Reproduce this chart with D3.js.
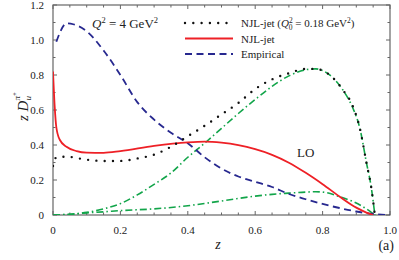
<!DOCTYPE html>
<html>
<head>
<meta charset="utf-8">
<script src="https://cdn.jsdelivr.net/npm/d3@7"></script>
<style>
  body { margin: 0; background: #fff; }
  text { font-family: "Liberation Serif", "DejaVu Serif", serif; fill: #222; }
</style>
</head>
<body>
<div id="chart"></div>
<script>
// NJL-jet (Q0^2 = 0.18 GeV^2), black dotted
const njlQ0Z = [0, 0.01, 0.04, 0.1, 0.15, 0.2, 0.25, 0.3, 0.35, 0.4, 0.45, 0.5, 0.55, 0.6, 0.65, 0.7, 0.75, 0.78, 0.8, 0.83, 0.86, 0.89, 0.91, 0.93, 0.945, 0.955];
const njlQ0V = [0.28, 0.33, 0.333, 0.316, 0.309, 0.309, 0.323, 0.345, 0.39, 0.45, 0.51, 0.575, 0.64, 0.72, 0.775, 0.81, 0.835, 0.835, 0.825, 0.785, 0.715, 0.62, 0.5, 0.3, 0.15, 0];

// NJL-jet, red solid
const njlZ = [0, 0.005, 0.01, 0.02, 0.04, 0.07, 0.1, 0.15, 0.2, 0.3, 0.4, 0.45, 0.5, 0.55, 0.6, 0.65, 0.7, 0.75, 0.8, 0.85, 0.9, 0.93, 0.95];
const njlV = [0.82, 0.62, 0.5, 0.43, 0.39, 0.365, 0.356, 0.355, 0.365, 0.395, 0.415, 0.419, 0.413, 0.399, 0.376, 0.344, 0.299, 0.241, 0.176, 0.106, 0.042, 0.014, 0];

// Empirical, blue dashed
const empZ = [0.01, 0.02, 0.04, 0.06, 0.1, 0.15, 0.2, 0.25, 0.3, 0.35, 0.4, 0.45, 0.5, 0.55, 0.6, 0.65, 0.7, 0.75, 0.8, 0.85, 0.9, 0.95, 1.0];
const empV = [0.99, 1.04, 1.095, 1.09, 1.05, 0.94, 0.8, 0.645, 0.545, 0.47, 0.41, 0.33, 0.265, 0.22, 0.19, 0.16, 0.12, 0.09, 0.063, 0.04, 0.02, 0.006, 0];

// LO, green dash-dot (upper and lower)
const loUpZ = [0, 0.05, 0.1, 0.15, 0.2, 0.25, 0.3, 0.35, 0.4, 0.45, 0.5, 0.55, 0.6, 0.65, 0.7, 0.75, 0.78, 0.8, 0.83, 0.86, 0.89, 0.91, 0.93, 0.945, 0.955];
const loUpV = [0, 0.004, 0.015, 0.035, 0.065, 0.115, 0.175, 0.24, 0.33, 0.41, 0.495, 0.58, 0.66, 0.735, 0.795, 0.83, 0.835, 0.825, 0.785, 0.715, 0.61, 0.5, 0.3, 0.15, 0];
const loLowZ = [0, 0.05, 0.1, 0.15, 0.2, 0.3, 0.4, 0.5, 0.6, 0.65, 0.7, 0.75, 0.78, 0.81, 0.85, 0.89, 0.93, 0.955];
const loLowV = [0, 0.004, 0.012, 0.018, 0.025, 0.035, 0.053, 0.08, 0.108, 0.118, 0.125, 0.131, 0.133, 0.128, 0.105, 0.077, 0.035, 0];

const xTicks = [0, 0.2, 0.4, 0.6, 0.8, 1.0];
const xTickLabels = ["0", "0.2", "0.4", "0.6", "0.8", "1.0"];
const yTicks = [0, 0.2, 0.4, 0.6, 0.8, 1.0, 1.2];
const yTickLabels = ["0", "0.2", "0.4", "0.6", "0.8", "1.0", "1.2"];

const W = 399, H = 260;
const margin = { top: 5, right: 9, bottom: 45, left: 53 };
const width = W - margin.left - margin.right;
const height = H - margin.top - margin.bottom;

const svg = d3.select("#chart").append("svg")
    .attr("width", W).attr("height", H);

const g = svg.append("g")
    .attr("transform", `translate(${margin.left},${margin.top})`);

const x = d3.scaleLinear().domain([0, 1]).range([0, width]);
const y = d3.scaleLinear().domain([0, 1.2]).range([height, 0]);

const axisColor = "#666";

// ticks, pointing inward, on all four sides
const xMinor = d3.range(0, 1.0001, 0.05);
const yMinor = d3.range(0, 1.2001, 0.1);
const isMajor = v => Math.abs(v * 5 - Math.round(v * 5)) < 1e-6;

const ticks = g.append("g").attr("stroke", axisColor).attr("stroke-width", 1);
xMinor.forEach(v => {
  const len = isMajor(v) ? 4 : 2.5;
  ticks.append("line").attr("x1", x(v)).attr("x2", x(v)).attr("y1", height).attr("y2", height - len);
  ticks.append("line").attr("x1", x(v)).attr("x2", x(v)).attr("y1", 0).attr("y2", len);
});
yMinor.forEach(v => {
  const len = isMajor(v) ? 4 : 2.5;
  ticks.append("line").attr("y1", y(v)).attr("y2", y(v)).attr("x1", 0).attr("x2", len);
  ticks.append("line").attr("y1", y(v)).attr("y2", y(v)).attr("x1", width).attr("x2", width - len);
});

g.append("rect")
    .attr("width", width).attr("height", height)
    .attr("fill", "none").attr("stroke", axisColor).attr("stroke-width", 1.2);

// tick labels
g.selectAll(".xl").data(xTicks).enter().append("text")
    .attr("x", d => x(d)).attr("y", height + 19)
    .attr("text-anchor", "middle").attr("font-size", 11)
    .text((d, i) => xTickLabels[i]);

g.selectAll(".yl").data(yTicks).enter().append("text")
    .attr("x", -9).attr("y", d => y(d) + 4)
    .attr("text-anchor", "end").attr("font-size", 11)
    .text((d, i) => yTickLabels[i]);

// curves
g.append("defs").append("clipPath").attr("id", "clip")
    .append("rect").attr("width", width).attr("height", height);

const line = d3.line()
    .x(d => x(d[0])).y(d => y(d[1]))
    .curve(d3.curveMonotoneX);

const zip = (a, b) => a.map((v, i) => [v, b[i]]);

const curves = g.append("g").attr("clip-path", "url(#clip)");

curves.append("path").datum(zip(loLowZ, loLowV))
    .attr("d", line).attr("fill", "none")
    .attr("stroke", "#12a54a").attr("stroke-width", 1.6)
    .attr("stroke-dasharray", "7,3,1.5,3");

curves.append("path").datum(zip(loUpZ, loUpV))
    .attr("d", line).attr("fill", "none")
    .attr("stroke", "#12a54a").attr("stroke-width", 1.6)
    .attr("stroke-dasharray", "7,3,1.5,3");

curves.append("path").datum(zip(empZ, empV))
    .attr("d", line).attr("fill", "none")
    .attr("stroke", "#27288f").attr("stroke-width", 1.8)
    .attr("stroke-dasharray", "7,4.5");

curves.append("path").datum(zip(njlZ, njlV))
    .attr("d", line).attr("fill", "none")
    .attr("stroke", "#ee2026").attr("stroke-width", 1.8);

curves.append("path").datum(zip(njlQ0Z, njlQ0V))
    .attr("d", line).attr("fill", "none")
    .attr("stroke", "#111").attr("stroke-width", 2.4)
    .attr("stroke-linecap", "round")
    .attr("stroke-dasharray", "0,8.3");

// legend
const legend = [
  { label: "NJL-jet", color: "#111", dash: "0,8.3", w: 2.4, cap: "round", q0: true },
  { label: "NJL-jet", color: "#ee2026", dash: null, w: 1.8, cap: "butt" },
  { label: "Empirical", color: "#27288f", dash: "7,4.5", w: 1.8, cap: "butt" }
];
const lg = svg.append("g");
legend.forEach((d, i) => {
  const ly = 23 + i * 15.5;
  lg.append("line")
      .attr("x1", 185).attr("x2", 233).attr("y1", ly).attr("y2", ly)
      .attr("stroke", d.color).attr("stroke-width", d.w)
      .attr("stroke-linecap", d.cap)
      .attr("stroke-dasharray", d.dash);
  const t = lg.append("text").attr("x", 241).attr("y", ly + 4).attr("font-size", 11);
  t.append("tspan").text(d.label);
  if (d.q0) {
    t.append("tspan").text(" (");
    t.append("tspan").attr("font-style", "italic").text("Q");
    t.append("tspan").attr("font-size", 7.5).attr("dy", -4.5).text("2");
    t.append("tspan").attr("font-size", 7.5).attr("dx", -4).attr("dy", 7.5).text("0");
    t.append("tspan").attr("dy", -3).text(" = 0.18 GeV");
    t.append("tspan").attr("font-size", 7.5).attr("dy", -4.5).text("2");
    t.append("tspan").attr("dy", 4.5).text(")");
  }
});

// Q^2 annotation
const qt = svg.append("text").attr("x", 92).attr("y", 28).attr("font-size", 13);
qt.append("tspan").attr("font-style", "italic").text("Q");
qt.append("tspan").attr("font-size", 8.5).attr("dy", -5.5).text("2");
qt.append("tspan").attr("dy", 5.5).text(" = 4 GeV");
qt.append("tspan").attr("font-size", 8.5).attr("dy", -5.5).text("2");

// LO label
svg.append("text").attr("x", 297).attr("y", 157).attr("font-size", 13).text("LO");

// axis titles
svg.append("text").attr("x", 218).attr("y", 249)
    .attr("font-size", 14).attr("font-style", "italic").attr("text-anchor", "middle").text("z");

svg.append("text").attr("x", 394).attr("y", 250)
    .attr("font-size", 14).attr("text-anchor", "end").text("(a)");

const yl = svg.append("text")
    .attr("transform", "translate(28,121) rotate(-90)")
    .attr("text-anchor", "start").attr("font-size", 15);
yl.append("tspan").attr("font-style", "italic").text("z D");
yl.append("tspan").attr("font-size", 9).attr("dy", 3).attr("font-style", "italic").text("u");
yl.append("tspan").attr("font-size", 9).attr("dx", -4.5).attr("dy", -11).attr("font-style", "italic").text("π");
yl.append("tspan").attr("font-size", 7).attr("dy", -3).text("+");
</script>
</body>
</html>
